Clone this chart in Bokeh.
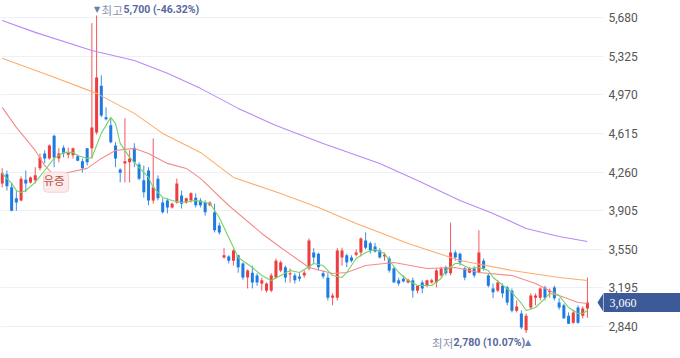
from bokeh.plotting import figure
from bokeh.models import Range1d, FixedTicker, NumeralTickFormatter, Label, PolyAnnotation, ColumnDataSource
from bokeh.embed import file_html
from bokeh.resources import INLINE

# ---------------- data ----------------
opens = [4155, 4240, 4120, 4020, 4000, 4190, 4165, 4185, 4295, 4430,
         4385, 4595, 4385, 4485, 4420, 4415, 4405, 4360, 4480, 4480,
         4625, 5055, 4765, 4690, 4505, 4285, 4340, 4350, 4485, 4330,
         4185, 4275, 4000, 4200, 3980, 4000, 3935, 3980, 4045, 3980,
         4000, 4025, 4000, 3980, 3955, 3890, 3770, 3475, 3485, 3445,
         3495, 3420, 3290, 3335, 3310, 3235, 3170, 3170, 3290, 3355,
         3385, 3320, 3310, 3300, 3310, 3375, 3520, 3510, 3330, 3290,
         3105, 3105, 3475, 3495, 3475, 3500, 3520, 3630, 3605, 3575,
         3540, 3485, 3465, 3375, 3265, 3280, 3245, 3265, 3170, 3245,
         3215, 3245, 3245, 3310, 3385, 3330, 3520, 3510, 3375, 3335,
         3375, 3335, 3445, 3310, 3190, 3170, 3215, 3200, 3170, 2985,
         2960, 2805, 3015, 3105, 3105, 3200, 3155, 3200, 3060, 3035,
         2940, 2875, 3015, 2940, 3005]
highs = [4295, 4275, 4165, 4090, 4220, 4275, 4220, 4305, 4430, 4460,
         4515, 4605, 4480, 4505, 4485, 4485, 4420, 4385, 4480, 5630,
         5700, 5150, 4855, 4755, 4535, 4295, 4755, 4460, 4525, 4350,
         4320, 4305, 4570, 4230, 4020, 4020, 3980, 4200, 4090, 4025,
         4075, 4065, 4020, 4000, 3990, 3970, 3795, 3560, 3495, 3550,
         3500, 3430, 3365, 3400, 3330, 3290, 3245, 3330, 3465, 3445,
         3400, 3375, 3330, 3330, 3355, 3650, 3560, 3520, 3355, 3330,
         3145, 3560, 3565, 3510, 3495, 3550, 3660, 3705, 3620, 3610,
         3560, 3520, 3485, 3385, 3290, 3310, 3280, 3290, 3215, 3265,
         3270, 3280, 3375, 3390, 3400, 3795, 3540, 3520, 3385, 3385,
         3395, 3725, 3465, 3330, 3235, 3265, 3235, 3215, 3190, 3080,
         2990, 2960, 3145, 3145, 3200, 3215, 3190, 3215, 3100, 3050,
         2970, 2995, 3035, 3025, 3290]
lows = [4120, 4090, 3900, 3905, 3990, 4075, 4155, 4155, 4275, 4340,
        4375, 4305, 4350, 4395, 4385, 4385, 4360, 4255, 4320, 4385,
        4605, 4765, 4735, 4525, 4305, 4165, 4165, 4165, 4305, 4185,
        4025, 3955, 3970, 4000, 3880, 3880, 3925, 3970, 3925, 3970,
        3980, 3935, 3935, 3860, 3945, 3705, 3685, 3465, 3420, 3400,
        3335, 3270, 3190, 3190, 3215, 3170, 3155, 3155, 3280, 3340,
        3245, 3245, 3235, 3255, 3290, 3355, 3420, 3355, 3280, 3080,
        3035, 3080, 3400, 3385, 3430, 3485, 3485, 3550, 3510, 3520,
        3465, 3445, 3335, 3245, 3215, 3245, 3235, 3105, 3145, 3145,
        3200, 3235, 3200, 3290, 3310, 3310, 3445, 3400, 3265, 3330,
        3290, 3330, 3355, 3200, 3100, 3155, 3105, 3035, 2970, 2970,
        2815, 2780, 2995, 3035, 3080, 3080, 3105, 3080, 2995, 2910,
        2865, 2865, 2865, 2915, 2920]
closes = [4250, 4130, 3905, 3980, 4200, 4155, 4210, 4230, 4395, 4385,
          4505, 4395, 4430, 4430, 4440, 4480, 4365, 4295, 4350, 4670,
          5130, 4780, 4745, 4535, 4385, 4255, 4360, 4385, 4350, 4200,
          4075, 4000, 4120, 4020, 3890, 3935, 3970, 4155, 3970, 4020,
          4065, 3955, 3955, 3890, 3980, 3725, 3705, 3495, 3445, 3540,
          3385, 3290, 3355, 3245, 3245, 3265, 3235, 3310, 3445, 3430,
          3290, 3330, 3265, 3280, 3335, 3630, 3475, 3385, 3300, 3105,
          3125, 3540, 3540, 3430, 3445, 3520, 3650, 3565, 3540, 3530,
          3475, 3500, 3355, 3245, 3235, 3255, 3270, 3170, 3215, 3190,
          3265, 3265, 3355, 3375, 3330, 3520, 3475, 3430, 3290, 3375,
          3310, 3520, 3375, 3215, 3155, 3245, 3145, 3060, 2985, 3025,
          2830, 2940, 3125, 3125, 3190, 3105, 3170, 3100, 3015, 2915,
          2865, 2970, 2875, 3005, 3060]

ma5_idx = [0, 2, 3, 4, 5, 7, 9, 11, 13, 15, 16, 18, 19, 21, 23, 24, 25, 27, 29, 31,
           32, 34, 36, 38, 41, 44, 46, 48, 50, 53, 55, 57, 59, 61, 63, 66, 68, 70, 72, 73,
           75, 77, 79, 81, 82, 84, 86, 88, 91, 93, 94, 96, 97, 99, 101, 103, 104, 108, 110, 111,
           113, 115, 116, 118, 120, 122, 123, 124]
ma5 = [4248, 4156, 4091, 4073, 4091, 4165, 4275, 4386, 4441, 4441, 4413, 4386, 4395, 4616, 4763, 4708, 4524, 4395, 4303, 4211,
       4119, 4027, 3999, 3981, 3999, 3972, 3843, 3659, 3475, 3383, 3309, 3263, 3309, 3355, 3337, 3420, 3401, 3309, 3291, 3337,
       3466, 3521, 3548, 3512, 3447, 3337, 3263, 3217, 3217, 3282, 3355, 3420, 3420, 3374, 3383, 3355, 3291, 3153, 3052, 2987,
       3015, 3098, 3144, 3125, 3015, 2960, 2960, 2987]
ma20_idx = [0, 3, 7, 9, 11, 14, 18, 21, 24, 28, 31, 35, 39, 42, 48, 55, 59, 65, 70, 73,
            77, 83, 90, 96, 101, 108, 113, 118, 122, 124]
ma20 = [4855, 4671, 4459, 4321, 4229, 4257, 4294, 4386, 4459, 4478, 4432, 4340, 4294, 4202, 3953, 3696, 3567, 3383, 3328, 3337,
        3401, 3429, 3374, 3383, 3337, 3309, 3236, 3125, 3061, 3052]
ma60_idx = [0, 10, 20, 28, 34, 42, 49, 59, 67, 75, 80, 86, 97, 108, 118, 124]
ma60 = [5306, 5149, 4984, 4800, 4616, 4441, 4211, 4064, 3935, 3788, 3705, 3604, 3447, 3355, 3291, 3263]
ma120_idx = [0, 7, 19, 28, 35, 42, 50, 58, 68, 80, 88, 97, 104, 111, 118, 124]
ma120 = [5655, 5545, 5379, 5287, 5168, 5030, 4846, 4689, 4524, 4340, 4183, 3999, 3880, 3742, 3668, 3622]

y_ticks = [2840, 3195, 3550, 3905, 4260, 4615, 4970, 5325, 5680]
event_index = 11
event_text = "유증"

# ---------------- main figure ----------------
RED = "#ee3c3f"
BLUE = "#1f7be2"
X0, X1 = -0.36, 127.4
Y0, Y1 = 2546, 5838
W, H = 680, 358
FRAME_W = 603
p = figure(width=W, height=H, output_backend="svg", toolbar_location=None,
           x_range=Range1d(X0, X1), y_range=Range1d(Y0, Y1),
           x_axis_location=None, y_axis_location="right",
           min_border_left=0, min_border_top=0, min_border_bottom=0, min_border_right=W - FRAME_W)
p.styles = {"position": "absolute", "left": "0px", "top": "0px"}
p.outline_line_color = None
p.background_fill_color = "white"
p.border_fill_color = "white"
p.xgrid.visible = False
p.ygrid.grid_line_color = "#eef0f6"
p.ygrid.grid_line_width = 1

ax = p.yaxis[0]
ax.ticker = FixedTicker(ticks=y_ticks)
ax.formatter = NumeralTickFormatter(format="0,0")
ax.axis_line_color = None
ax.major_tick_line_color = None
ax.minor_tick_line_color = None
ax.major_tick_out = 0
ax.major_tick_in = 0
ax.major_label_standoff = 5
ax.major_label_text_font = "Roboto"
ax.major_label_text_font_size = "12px"
ax.major_label_text_color = "#555555"

idx = list(range(len(closes)))
up = [c >= o for o, c in zip(opens, closes)]
cols = [RED if u else BLUE for u in up]
tops = [max(o, c) for o, c in zip(opens, closes)]
bots = [min(o, c) for o, c in zip(opens, closes)]

p.segment(x0=idx, y0=highs, x1=idx, y1=lows, line_color=cols, line_width=1, line_alpha=0.85)
p.vbar(x=idx, width=0.64, top=tops, bottom=bots, fill_color=cols, line_color=None)

p.line(ma120_idx, ma120, line_color="#bb88f7", line_width=1.1)
p.line(ma60_idx, ma60, line_color="#fbae6c", line_width=1.1)
p.line(ma20_idx, ma20, line_color="#f68b8b", line_width=1.1)
p.line(ma5_idx, ma5, line_color="#72d463", line_width=1.1)

# high / low annotations
last = closes[-1]
hi = max(highs); hi_i = highs.index(hi)
lo = min(lows); lo_i = lows.index(lo)
hi_pct = (last - hi) / hi * 100
lo_pct = (last - lo) / lo * 100

GRAY = "#8a93ad"
SLATE = "#56699e"
for txt, off, font, size, style, col in [
        ("▼", -2.5, "DejaVu Sans", "8px", "normal", "#6f7fab"),
        ("최고", 5, "Noto Sans CJK KR", "11.5px", "normal", GRAY),
        (f"{hi:,} ({hi_pct:.2f}%)", 27, "Roboto", "10.5px", "bold", SLATE)]:
    p.add_layout(Label(x=hi_i, y=hi, text=txt, x_offset=off, y_offset=6,
                       text_align="left", text_baseline="middle",
                       text_font=font, text_font_size=size, text_font_style=style,
                       text_color=col))

for txt, off, font, size, style, col in [
        ("최저", -94, "Noto Sans CJK KR", "11.5px", "normal", GRAY),
        (f"{lo:,} ({lo_pct:.2f}%)", -72.5, "Roboto", "10.5px", "bold", SLATE),
        ("▲", -1, "DejaVu Sans", "8px", "normal", "#6f7fab")]:
    p.add_layout(Label(x=lo_i, y=lo, text=txt, x_offset=off, y_offset=-9.5,
                       text_align="left", text_baseline="middle",
                       text_font=font, text_font_size=size, text_font_style=style,
                       text_color=col))

# event marker
p.add_layout(Label(x=event_index, y=lows[event_index], text=event_text, x_offset=2, y_offset=-15,
                   text_align="center", text_baseline="middle",
                   text_font="Noto Sans CJK KR", text_font_size="11.5px", text_color="#b4544d",
                   background_fill_color="#fdeceb", border_line_color="#f6d0cc",
                   padding=(0, 4, 0, 4), border_radius=4))

# current price tag: arrow tip inside the main frame
BOX = "#3d5a98"
dx = 6 * (X1 - X0) / FRAME_W
dy = 9.5 * (Y1 - Y0) / H
p.add_layout(PolyAnnotation(xs=[X1 - dx, X1, X1], ys=[last, last + dy, last - dy],
                            fill_color=BOX, fill_alpha=1, line_color=None))

# ---------------- overlay for the price tag body (over the axis area) ----------------
TAG_W = W - FRAME_W
t = figure(width=TAG_W, height=H, output_backend="svg", toolbar_location=None,
           x_range=Range1d(0, TAG_W), y_range=Range1d(Y0, Y1),
           x_axis_location=None, y_axis_location=None,
           min_border_left=0, min_border_right=0, min_border_top=0, min_border_bottom=0)
t.styles = {"position": "absolute", "left": f"{FRAME_W}px", "top": "0px"}
t.outline_line_color = None
t.background_fill_alpha = 0
t.border_fill_alpha = 0
t.grid.visible = False
tag = ColumnDataSource(dict(left=[0], right=[TAG_W], top=[last + dy], bottom=[last - dy],
                            x=[6], y=[last], label=[f"{last:,}"]))
t.quad(left="left", right="right", top="top", bottom="bottom", source=tag,
       fill_color=BOX, line_color=None)
t.text(x="x", y="y", text="label", source=tag, text_color="white",
       text_font="Roboto", text_font_size="12px", text_align="left", text_baseline="middle")

open("out.html", "w").write(file_html([p, t], INLINE))
